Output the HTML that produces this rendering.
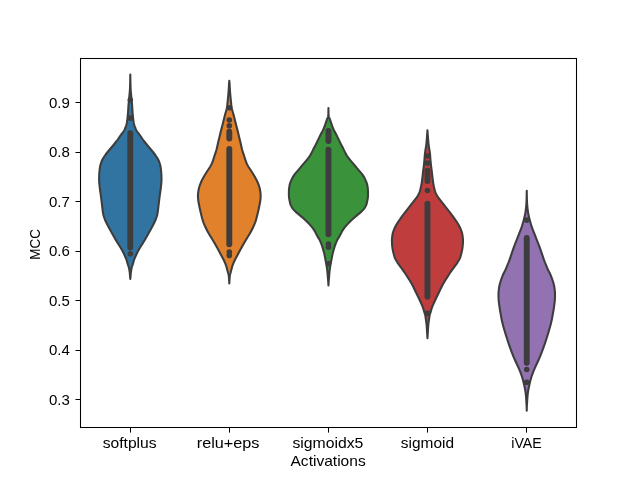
<!DOCTYPE html>
<html><head><meta charset="utf-8"><style>
html,body{margin:0;padding:0;background:#fff;}
svg{display:block;}
text{font-family:"Liberation Sans",sans-serif;fill:#000;}
</style></head><body>
<svg width="640" height="480" viewBox="0 0 640 480">
<rect width="640" height="480" fill="#fff"/>
<path d="M130.30,74.50 L130.29,75.00 L130.29,75.50 L130.28,76.00 L130.27,76.50 L130.27,77.00 L130.26,77.50 L130.25,78.00 L130.24,78.50 L130.23,79.00 L130.22,79.50 L130.21,80.00 L130.21,80.50 L130.20,81.00 L130.19,81.50 L130.17,82.00 L130.16,82.50 L130.15,83.00 L130.14,83.50 L130.13,84.00 L130.11,84.50 L130.10,85.00 L130.09,85.50 L130.07,86.00 L130.05,86.50 L130.04,87.00 L130.02,87.50 L130.00,88.00 L129.97,88.50 L129.95,89.00 L129.93,89.50 L129.90,90.00 L129.87,90.50 L129.83,91.00 L129.79,91.50 L129.74,92.00 L129.70,92.50 L129.65,93.00 L129.60,93.50 L129.55,94.00 L129.50,94.50 L129.45,95.00 L129.41,95.50 L129.36,96.00 L129.32,96.50 L129.27,97.00 L129.23,97.50 L129.18,98.00 L129.14,98.50 L129.09,99.00 L129.05,99.50 L129.00,100.00 L128.95,100.50 L128.90,101.00 L128.85,101.50 L128.79,102.00 L128.74,102.50 L128.68,103.00 L128.63,103.50 L128.58,104.00 L128.54,104.50 L128.50,105.00 L128.46,105.50 L128.43,106.00 L128.40,106.50 L128.37,107.00 L128.35,107.50 L128.32,108.00 L128.29,108.50 L128.26,109.00 L128.23,109.50 L128.20,110.00 L128.17,110.50 L128.13,111.00 L128.09,111.50 L128.06,112.00 L128.02,112.50 L127.98,113.00 L127.93,113.50 L127.89,114.00 L127.85,114.50 L127.80,115.00 L127.75,115.50 L127.70,116.00 L127.66,116.50 L127.61,117.00 L127.56,117.50 L127.50,118.00 L127.45,118.50 L127.39,119.00 L127.33,119.50 L127.27,120.00 L127.20,120.50 L127.13,121.00 L127.06,121.50 L126.98,122.00 L126.90,122.50 L126.80,123.00 L126.69,123.50 L126.57,124.00 L126.43,124.50 L126.29,125.00 L126.15,125.50 L125.99,126.00 L125.82,126.50 L125.65,127.00 L125.47,127.50 L125.27,128.00 L125.06,128.50 L124.84,129.00 L124.60,129.50 L124.34,130.00 L124.06,130.50 L123.75,131.00 L123.41,131.50 L123.06,132.00 L122.69,132.50 L122.32,133.00 L121.95,133.50 L121.57,134.00 L121.20,134.50 L120.84,135.00 L120.48,135.50 L120.13,136.00 L119.79,136.50 L119.45,137.00 L119.11,137.50 L118.77,138.00 L118.43,138.50 L118.09,139.00 L117.73,139.50 L117.38,140.00 L117.01,140.50 L116.64,141.00 L116.26,141.50 L115.88,142.00 L115.49,142.50 L115.10,143.00 L114.70,143.50 L114.30,144.00 L113.90,144.50 L113.49,145.00 L113.08,145.50 L112.66,146.00 L112.25,146.50 L111.83,147.00 L111.40,147.50 L110.98,148.00 L110.56,148.50 L110.14,149.00 L109.72,149.50 L109.30,150.00 L108.89,150.50 L108.47,151.00 L108.06,151.50 L107.65,152.00 L107.24,152.50 L106.84,153.00 L106.45,153.50 L106.07,154.00 L105.69,154.50 L105.33,155.00 L104.97,155.50 L104.62,156.00 L104.29,156.50 L103.96,157.00 L103.64,157.50 L103.33,158.00 L103.04,158.50 L102.76,159.00 L102.49,159.50 L102.24,160.00 L102.01,160.50 L101.79,161.00 L101.58,161.50 L101.38,162.00 L101.19,162.50 L101.01,163.00 L100.85,163.50 L100.70,164.00 L100.56,164.50 L100.44,165.00 L100.32,165.50 L100.22,166.00 L100.12,166.50 L100.03,167.00 L99.95,167.50 L99.87,168.00 L99.80,168.50 L99.73,169.00 L99.67,169.50 L99.61,170.00 L99.55,170.50 L99.50,171.00 L99.45,171.50 L99.41,172.00 L99.36,172.50 L99.33,173.00 L99.29,173.50 L99.26,174.00 L99.23,174.50 L99.21,175.00 L99.19,175.50 L99.17,176.00 L99.16,176.50 L99.15,177.00 L99.14,177.50 L99.13,178.00 L99.12,178.50 L99.12,179.00 L99.12,179.50 L99.12,180.00 L99.13,180.50 L99.15,181.00 L99.17,181.50 L99.20,182.00 L99.23,182.50 L99.27,183.00 L99.31,183.50 L99.36,184.00 L99.41,184.50 L99.45,185.00 L99.50,185.50 L99.56,186.00 L99.61,186.50 L99.67,187.00 L99.73,187.50 L99.79,188.00 L99.85,188.50 L99.92,189.00 L99.99,189.50 L100.06,190.00 L100.13,190.50 L100.20,191.00 L100.27,191.50 L100.35,192.00 L100.42,192.50 L100.50,193.00 L100.58,193.50 L100.65,194.00 L100.72,194.50 L100.79,195.00 L100.86,195.50 L100.92,196.00 L100.99,196.50 L101.05,197.00 L101.11,197.50 L101.17,198.00 L101.22,198.50 L101.28,199.00 L101.34,199.50 L101.40,200.00 L101.46,200.50 L101.52,201.00 L101.58,201.50 L101.64,202.00 L101.70,202.50 L101.76,203.00 L101.82,203.50 L101.88,204.00 L101.94,204.50 L102.00,205.00 L102.06,205.50 L102.12,206.00 L102.17,206.50 L102.23,207.00 L102.29,207.50 L102.35,208.00 L102.41,208.50 L102.48,209.00 L102.54,209.50 L102.60,210.00 L102.67,210.50 L102.74,211.00 L102.81,211.50 L102.89,212.00 L102.96,212.50 L103.04,213.00 L103.13,213.50 L103.22,214.00 L103.33,214.50 L103.44,215.00 L103.56,215.50 L103.69,216.00 L103.84,216.50 L104.00,217.00 L104.17,217.50 L104.34,218.00 L104.53,218.50 L104.72,219.00 L104.92,219.50 L105.12,220.00 L105.33,220.50 L105.55,221.00 L105.78,221.50 L106.01,222.00 L106.25,222.50 L106.49,223.00 L106.74,223.50 L106.99,224.00 L107.25,224.50 L107.51,225.00 L107.77,225.50 L108.03,226.00 L108.29,226.50 L108.56,227.00 L108.83,227.50 L109.10,228.00 L109.38,228.50 L109.65,229.00 L109.93,229.50 L110.20,230.00 L110.48,230.50 L110.76,231.00 L111.04,231.50 L111.32,232.00 L111.60,232.50 L111.88,233.00 L112.16,233.50 L112.44,234.00 L112.72,234.50 L113.00,235.00 L113.28,235.50 L113.55,236.00 L113.83,236.50 L114.11,237.00 L114.39,237.50 L114.67,238.00 L114.95,238.50 L115.23,239.00 L115.52,239.50 L115.82,240.00 L116.11,240.50 L116.41,241.00 L116.72,241.50 L117.03,242.00 L117.34,242.50 L117.65,243.00 L117.96,243.50 L118.27,244.00 L118.59,244.50 L118.90,245.00 L119.22,245.50 L119.53,246.00 L119.85,246.50 L120.17,247.00 L120.48,247.50 L120.79,248.00 L121.10,248.50 L121.40,249.00 L121.69,249.50 L121.97,250.00 L122.25,250.50 L122.52,251.00 L122.79,251.50 L123.05,252.00 L123.30,252.50 L123.55,253.00 L123.79,253.50 L124.03,254.00 L124.26,254.50 L124.49,255.00 L124.72,255.50 L124.94,256.00 L125.16,256.50 L125.38,257.00 L125.59,257.50 L125.80,258.00 L126.00,258.50 L126.19,259.00 L126.37,259.50 L126.54,260.00 L126.71,260.50 L126.86,261.00 L127.00,261.50 L127.14,262.00 L127.27,262.50 L127.40,263.00 L127.54,263.50 L127.68,264.00 L127.83,264.50 L128.00,265.00 L128.18,265.50 L128.37,266.00 L128.55,266.50 L128.72,267.00 L128.88,267.50 L129.00,268.00 L129.10,268.50 L129.20,269.00 L129.29,269.50 L129.38,270.00 L129.45,270.50 L129.53,271.00 L129.59,271.50 L129.66,272.00 L129.72,272.50 L129.77,273.00 L129.82,273.50 L129.87,274.00 L129.91,274.50 L129.95,275.00 L129.99,275.50 L130.02,276.00 L130.06,276.50 L130.11,277.00 L130.15,277.50 L130.20,278.00 L130.25,278.50 L130.30,279.00 L130.30,279.00 L130.35,278.50 L130.40,278.00 L130.45,277.50 L130.49,277.00 L130.54,276.50 L130.58,276.00 L130.61,275.50 L130.65,275.00 L130.69,274.50 L130.73,274.00 L130.78,273.50 L130.83,273.00 L130.88,272.50 L130.94,272.00 L131.01,271.50 L131.07,271.00 L131.15,270.50 L131.22,270.00 L131.31,269.50 L131.40,269.00 L131.50,268.50 L131.60,268.00 L131.72,267.50 L131.88,267.00 L132.05,266.50 L132.23,266.00 L132.42,265.50 L132.60,265.00 L132.77,264.50 L132.92,264.00 L133.06,263.50 L133.20,263.00 L133.33,262.50 L133.46,262.00 L133.60,261.50 L133.74,261.00 L133.89,260.50 L134.06,260.00 L134.23,259.50 L134.41,259.00 L134.60,258.50 L134.80,258.00 L135.01,257.50 L135.22,257.00 L135.44,256.50 L135.66,256.00 L135.88,255.50 L136.11,255.00 L136.34,254.50 L136.57,254.00 L136.81,253.50 L137.05,253.00 L137.30,252.50 L137.55,252.00 L137.81,251.50 L138.08,251.00 L138.35,250.50 L138.63,250.00 L138.91,249.50 L139.20,249.00 L139.50,248.50 L139.81,248.00 L140.12,247.50 L140.43,247.00 L140.75,246.50 L141.07,246.00 L141.38,245.50 L141.70,245.00 L142.01,244.50 L142.33,244.00 L142.64,243.50 L142.95,243.00 L143.26,242.50 L143.57,242.00 L143.88,241.50 L144.19,241.00 L144.49,240.50 L144.78,240.00 L145.08,239.50 L145.37,239.00 L145.65,238.50 L145.93,238.00 L146.21,237.50 L146.49,237.00 L146.77,236.50 L147.05,236.00 L147.32,235.50 L147.60,235.00 L147.88,234.50 L148.16,234.00 L148.44,233.50 L148.72,233.00 L149.00,232.50 L149.28,232.00 L149.56,231.50 L149.84,231.00 L150.12,230.50 L150.40,230.00 L150.67,229.50 L150.95,229.00 L151.22,228.50 L151.50,228.00 L151.77,227.50 L152.04,227.00 L152.31,226.50 L152.57,226.00 L152.83,225.50 L153.09,225.00 L153.35,224.50 L153.61,224.00 L153.86,223.50 L154.11,223.00 L154.35,222.50 L154.59,222.00 L154.82,221.50 L155.05,221.00 L155.27,220.50 L155.48,220.00 L155.68,219.50 L155.88,219.00 L156.07,218.50 L156.26,218.00 L156.43,217.50 L156.60,217.00 L156.76,216.50 L156.91,216.00 L157.04,215.50 L157.16,215.00 L157.27,214.50 L157.38,214.00 L157.47,213.50 L157.56,213.00 L157.64,212.50 L157.71,212.00 L157.79,211.50 L157.86,211.00 L157.93,210.50 L158.00,210.00 L158.06,209.50 L158.12,209.00 L158.19,208.50 L158.25,208.00 L158.31,207.50 L158.37,207.00 L158.43,206.50 L158.48,206.00 L158.54,205.50 L158.60,205.00 L158.66,204.50 L158.72,204.00 L158.78,203.50 L158.84,203.00 L158.90,202.50 L158.96,202.00 L159.02,201.50 L159.08,201.00 L159.14,200.50 L159.20,200.00 L159.26,199.50 L159.32,199.00 L159.38,198.50 L159.43,198.00 L159.49,197.50 L159.55,197.00 L159.61,196.50 L159.68,196.00 L159.74,195.50 L159.81,195.00 L159.88,194.50 L159.95,194.00 L160.02,193.50 L160.10,193.00 L160.18,192.50 L160.25,192.00 L160.33,191.50 L160.40,191.00 L160.47,190.50 L160.54,190.00 L160.61,189.50 L160.68,189.00 L160.75,188.50 L160.81,188.00 L160.87,187.50 L160.93,187.00 L160.99,186.50 L161.04,186.00 L161.10,185.50 L161.15,185.00 L161.19,184.50 L161.24,184.00 L161.29,183.50 L161.33,183.00 L161.37,182.50 L161.40,182.00 L161.43,181.50 L161.45,181.00 L161.47,180.50 L161.48,180.00 L161.48,179.50 L161.48,179.00 L161.48,178.50 L161.47,178.00 L161.46,177.50 L161.45,177.00 L161.44,176.50 L161.43,176.00 L161.41,175.50 L161.39,175.00 L161.37,174.50 L161.34,174.00 L161.31,173.50 L161.27,173.00 L161.24,172.50 L161.19,172.00 L161.15,171.50 L161.10,171.00 L161.05,170.50 L160.99,170.00 L160.93,169.50 L160.87,169.00 L160.80,168.50 L160.73,168.00 L160.65,167.50 L160.57,167.00 L160.48,166.50 L160.38,166.00 L160.28,165.50 L160.16,165.00 L160.04,164.50 L159.90,164.00 L159.75,163.50 L159.59,163.00 L159.41,162.50 L159.22,162.00 L159.02,161.50 L158.81,161.00 L158.59,160.50 L158.36,160.00 L158.11,159.50 L157.84,159.00 L157.56,158.50 L157.27,158.00 L156.96,157.50 L156.64,157.00 L156.31,156.50 L155.98,156.00 L155.63,155.50 L155.27,155.00 L154.91,154.50 L154.53,154.00 L154.15,153.50 L153.76,153.00 L153.36,152.50 L152.95,152.00 L152.54,151.50 L152.13,151.00 L151.71,150.50 L151.30,150.00 L150.88,149.50 L150.46,149.00 L150.04,148.50 L149.62,148.00 L149.20,147.50 L148.77,147.00 L148.35,146.50 L147.94,146.00 L147.52,145.50 L147.11,145.00 L146.70,144.50 L146.30,144.00 L145.90,143.50 L145.50,143.00 L145.11,142.50 L144.72,142.00 L144.34,141.50 L143.96,141.00 L143.59,140.50 L143.22,140.00 L142.87,139.50 L142.51,139.00 L142.17,138.50 L141.83,138.00 L141.49,137.50 L141.15,137.00 L140.81,136.50 L140.47,136.00 L140.12,135.50 L139.76,135.00 L139.40,134.50 L139.03,134.00 L138.65,133.50 L138.28,133.00 L137.91,132.50 L137.54,132.00 L137.19,131.50 L136.85,131.00 L136.54,130.50 L136.26,130.00 L136.00,129.50 L135.76,129.00 L135.54,128.50 L135.33,128.00 L135.13,127.50 L134.95,127.00 L134.78,126.50 L134.61,126.00 L134.45,125.50 L134.31,125.00 L134.17,124.50 L134.03,124.00 L133.91,123.50 L133.80,123.00 L133.70,122.50 L133.62,122.00 L133.54,121.50 L133.47,121.00 L133.40,120.50 L133.33,120.00 L133.27,119.50 L133.21,119.00 L133.15,118.50 L133.10,118.00 L133.04,117.50 L132.99,117.00 L132.94,116.50 L132.90,116.00 L132.85,115.50 L132.80,115.00 L132.75,114.50 L132.71,114.00 L132.67,113.50 L132.62,113.00 L132.58,112.50 L132.54,112.00 L132.51,111.50 L132.47,111.00 L132.43,110.50 L132.40,110.00 L132.37,109.50 L132.34,109.00 L132.31,108.50 L132.28,108.00 L132.25,107.50 L132.23,107.00 L132.20,106.50 L132.17,106.00 L132.14,105.50 L132.10,105.00 L132.06,104.50 L132.02,104.00 L131.97,103.50 L131.92,103.00 L131.86,102.50 L131.81,102.00 L131.75,101.50 L131.70,101.00 L131.65,100.50 L131.60,100.00 L131.55,99.50 L131.51,99.00 L131.46,98.50 L131.42,98.00 L131.37,97.50 L131.33,97.00 L131.28,96.50 L131.24,96.00 L131.19,95.50 L131.15,95.00 L131.10,94.50 L131.05,94.00 L131.00,93.50 L130.95,93.00 L130.90,92.50 L130.86,92.00 L130.81,91.50 L130.77,91.00 L130.73,90.50 L130.70,90.00 L130.67,89.50 L130.65,89.00 L130.63,88.50 L130.60,88.00 L130.58,87.50 L130.56,87.00 L130.55,86.50 L130.53,86.00 L130.51,85.50 L130.50,85.00 L130.49,84.50 L130.47,84.00 L130.46,83.50 L130.45,83.00 L130.44,82.50 L130.43,82.00 L130.41,81.50 L130.40,81.00 L130.39,80.50 L130.39,80.00 L130.38,79.50 L130.37,79.00 L130.36,78.50 L130.35,78.00 L130.34,77.50 L130.33,77.00 L130.33,76.50 L130.32,76.00 L130.31,75.50 L130.31,75.00 L130.30,74.50 Z" fill="#3274a1" stroke="#3d3d3d" stroke-width="2.08" stroke-linejoin="round"/>
<circle cx="130.3" cy="100" r="2.8" fill="#3d3d3d"/>
<circle cx="130.3" cy="118.1" r="2.8" fill="#3d3d3d"/>
<circle cx="130.3" cy="253.75" r="2.8" fill="#3d3d3d"/>
<line x1="130.3" y1="133.1" x2="130.3" y2="247.5" stroke="#3d3d3d" stroke-width="5.9" stroke-linecap="round"/>
<path d="M229.30,80.80 L229.25,81.30 L229.20,81.80 L229.16,82.30 L229.12,82.80 L229.08,83.30 L229.04,83.80 L229.01,84.30 L228.98,84.80 L228.96,85.30 L228.93,85.80 L228.90,86.30 L228.87,86.80 L228.84,87.30 L228.81,87.80 L228.78,88.30 L228.75,88.80 L228.72,89.30 L228.68,89.80 L228.65,90.30 L228.61,90.80 L228.58,91.30 L228.54,91.80 L228.50,92.30 L228.47,92.80 L228.43,93.30 L228.38,93.80 L228.34,94.30 L228.30,94.80 L228.25,95.30 L228.21,95.80 L228.16,96.30 L228.11,96.80 L228.07,97.30 L228.02,97.80 L227.97,98.30 L227.92,98.80 L227.88,99.30 L227.83,99.80 L227.78,100.30 L227.73,100.80 L227.68,101.30 L227.63,101.80 L227.57,102.30 L227.52,102.80 L227.47,103.30 L227.42,103.80 L227.37,104.30 L227.32,104.80 L227.27,105.30 L227.21,105.80 L227.15,106.30 L227.09,106.80 L227.02,107.30 L226.93,107.80 L226.83,108.30 L226.71,108.80 L226.58,109.30 L226.45,109.80 L226.32,110.30 L226.19,110.80 L226.05,111.30 L225.91,111.80 L225.77,112.30 L225.62,112.80 L225.48,113.30 L225.34,113.80 L225.19,114.30 L225.06,114.80 L224.92,115.30 L224.79,115.80 L224.66,116.30 L224.53,116.80 L224.40,117.30 L224.27,117.80 L224.14,118.30 L224.02,118.80 L223.89,119.30 L223.77,119.80 L223.64,120.30 L223.52,120.80 L223.40,121.30 L223.28,121.80 L223.16,122.30 L223.04,122.80 L222.92,123.30 L222.79,123.80 L222.67,124.30 L222.54,124.80 L222.41,125.30 L222.28,125.80 L222.15,126.30 L222.01,126.80 L221.88,127.30 L221.74,127.80 L221.61,128.30 L221.47,128.80 L221.34,129.30 L221.21,129.80 L221.08,130.30 L220.96,130.80 L220.83,131.30 L220.71,131.80 L220.59,132.30 L220.47,132.80 L220.35,133.30 L220.23,133.80 L220.12,134.30 L220.00,134.80 L219.88,135.30 L219.76,135.80 L219.64,136.30 L219.52,136.80 L219.40,137.30 L219.28,137.80 L219.16,138.30 L219.04,138.80 L218.92,139.30 L218.80,139.80 L218.68,140.30 L218.56,140.80 L218.44,141.30 L218.33,141.80 L218.21,142.30 L218.09,142.80 L217.98,143.30 L217.86,143.80 L217.75,144.30 L217.63,144.80 L217.52,145.30 L217.41,145.80 L217.30,146.30 L217.19,146.80 L217.08,147.30 L216.96,147.80 L216.84,148.30 L216.72,148.80 L216.59,149.30 L216.46,149.80 L216.31,150.30 L216.16,150.80 L216.01,151.30 L215.85,151.80 L215.68,152.30 L215.51,152.80 L215.34,153.30 L215.17,153.80 L215.00,154.30 L214.83,154.80 L214.67,155.30 L214.51,155.80 L214.35,156.30 L214.19,156.80 L214.04,157.30 L213.88,157.80 L213.72,158.30 L213.56,158.80 L213.40,159.30 L213.23,159.80 L213.06,160.30 L212.88,160.80 L212.70,161.30 L212.52,161.80 L212.33,162.30 L212.13,162.80 L211.93,163.30 L211.71,163.80 L211.49,164.30 L211.24,164.80 L210.99,165.30 L210.72,165.80 L210.43,166.30 L210.13,166.80 L209.81,167.30 L209.49,167.80 L209.16,168.30 L208.83,168.80 L208.50,169.30 L208.17,169.80 L207.85,170.30 L207.52,170.80 L207.20,171.30 L206.88,171.80 L206.56,172.30 L206.24,172.80 L205.92,173.30 L205.61,173.80 L205.30,174.30 L205.00,174.80 L204.70,175.30 L204.41,175.80 L204.12,176.30 L203.83,176.80 L203.55,177.30 L203.27,177.80 L203.00,178.30 L202.73,178.80 L202.47,179.30 L202.21,179.80 L201.96,180.30 L201.72,180.80 L201.47,181.30 L201.24,181.80 L201.01,182.30 L200.78,182.80 L200.57,183.30 L200.36,183.80 L200.17,184.30 L199.99,184.80 L199.81,185.30 L199.65,185.80 L199.49,186.30 L199.34,186.80 L199.20,187.30 L199.07,187.80 L198.95,188.30 L198.83,188.80 L198.72,189.30 L198.62,189.80 L198.53,190.30 L198.43,190.80 L198.35,191.30 L198.27,191.80 L198.19,192.30 L198.13,192.80 L198.07,193.30 L198.02,193.80 L197.99,194.30 L197.97,194.80 L197.96,195.30 L197.96,195.80 L197.97,196.30 L197.99,196.80 L198.01,197.30 L198.04,197.80 L198.07,198.30 L198.11,198.80 L198.16,199.30 L198.20,199.80 L198.26,200.30 L198.32,200.80 L198.40,201.30 L198.48,201.80 L198.56,202.30 L198.66,202.80 L198.75,203.30 L198.85,203.80 L198.95,204.30 L199.05,204.80 L199.15,205.30 L199.25,205.80 L199.35,206.30 L199.45,206.80 L199.55,207.30 L199.65,207.80 L199.75,208.30 L199.85,208.80 L199.96,209.30 L200.06,209.80 L200.17,210.30 L200.29,210.80 L200.40,211.30 L200.52,211.80 L200.64,212.30 L200.76,212.80 L200.88,213.30 L201.00,213.80 L201.13,214.30 L201.25,214.80 L201.37,215.30 L201.50,215.80 L201.62,216.30 L201.74,216.80 L201.87,217.30 L202.00,217.80 L202.13,218.30 L202.27,218.80 L202.41,219.30 L202.56,219.80 L202.72,220.30 L202.89,220.80 L203.06,221.30 L203.24,221.80 L203.42,222.30 L203.62,222.80 L203.81,223.30 L204.01,223.80 L204.22,224.30 L204.43,224.80 L204.64,225.30 L204.85,225.80 L205.07,226.30 L205.29,226.80 L205.52,227.30 L205.75,227.80 L205.98,228.30 L206.22,228.80 L206.47,229.30 L206.72,229.80 L206.97,230.30 L207.23,230.80 L207.50,231.30 L207.77,231.80 L208.05,232.30 L208.33,232.80 L208.62,233.30 L208.90,233.80 L209.20,234.30 L209.49,234.80 L209.79,235.30 L210.09,235.80 L210.40,236.30 L210.71,236.80 L211.02,237.30 L211.33,237.80 L211.64,238.30 L211.95,238.80 L212.26,239.30 L212.57,239.80 L212.87,240.30 L213.17,240.80 L213.46,241.30 L213.76,241.80 L214.05,242.30 L214.34,242.80 L214.63,243.30 L214.91,243.80 L215.20,244.30 L215.48,244.80 L215.77,245.30 L216.05,245.80 L216.34,246.30 L216.62,246.80 L216.90,247.30 L217.18,247.80 L217.46,248.30 L217.74,248.80 L218.01,249.30 L218.28,249.80 L218.55,250.30 L218.82,250.80 L219.08,251.30 L219.34,251.80 L219.60,252.30 L219.86,252.80 L220.12,253.30 L220.38,253.80 L220.64,254.30 L220.91,254.80 L221.17,255.30 L221.44,255.80 L221.71,256.30 L221.99,256.80 L222.26,257.30 L222.53,257.80 L222.81,258.30 L223.07,258.80 L223.33,259.30 L223.59,259.80 L223.84,260.30 L224.08,260.80 L224.32,261.30 L224.56,261.80 L224.79,262.30 L225.02,262.80 L225.23,263.30 L225.44,263.80 L225.64,264.30 L225.83,264.80 L226.00,265.30 L226.16,265.80 L226.31,266.30 L226.45,266.80 L226.59,267.30 L226.72,267.80 L226.85,268.30 L226.98,268.80 L227.11,269.30 L227.25,269.80 L227.38,270.30 L227.51,270.80 L227.64,271.30 L227.77,271.80 L227.91,272.30 L228.04,272.80 L228.19,273.30 L228.37,273.80 L228.54,274.30 L228.67,274.80 L228.74,275.30 L228.80,275.80 L228.85,276.30 L228.89,276.80 L228.93,277.30 L228.96,277.80 L229.00,278.30 L229.03,278.80 L229.06,279.30 L229.09,279.80 L229.12,280.30 L229.15,280.80 L229.18,281.30 L229.21,281.80 L229.24,282.30 L229.27,282.80 L229.29,283.30 L229.30,283.50 L229.30,283.50 L229.31,283.30 L229.33,282.80 L229.36,282.30 L229.39,281.80 L229.42,281.30 L229.45,280.80 L229.48,280.30 L229.51,279.80 L229.54,279.30 L229.57,278.80 L229.60,278.30 L229.64,277.80 L229.67,277.30 L229.71,276.80 L229.75,276.30 L229.80,275.80 L229.86,275.30 L229.93,274.80 L230.06,274.30 L230.23,273.80 L230.41,273.30 L230.56,272.80 L230.69,272.30 L230.83,271.80 L230.96,271.30 L231.09,270.80 L231.22,270.30 L231.35,269.80 L231.49,269.30 L231.62,268.80 L231.75,268.30 L231.88,267.80 L232.01,267.30 L232.15,266.80 L232.29,266.30 L232.44,265.80 L232.60,265.30 L232.77,264.80 L232.96,264.30 L233.16,263.80 L233.37,263.30 L233.58,262.80 L233.81,262.30 L234.04,261.80 L234.28,261.30 L234.52,260.80 L234.76,260.30 L235.01,259.80 L235.27,259.30 L235.53,258.80 L235.79,258.30 L236.07,257.80 L236.34,257.30 L236.61,256.80 L236.89,256.30 L237.16,255.80 L237.43,255.30 L237.69,254.80 L237.96,254.30 L238.22,253.80 L238.48,253.30 L238.74,252.80 L239.00,252.30 L239.26,251.80 L239.52,251.30 L239.78,250.80 L240.05,250.30 L240.32,249.80 L240.59,249.30 L240.86,248.80 L241.14,248.30 L241.42,247.80 L241.70,247.30 L241.98,246.80 L242.26,246.30 L242.55,245.80 L242.83,245.30 L243.12,244.80 L243.40,244.30 L243.69,243.80 L243.97,243.30 L244.26,242.80 L244.55,242.30 L244.84,241.80 L245.14,241.30 L245.43,240.80 L245.73,240.30 L246.03,239.80 L246.34,239.30 L246.65,238.80 L246.96,238.30 L247.27,237.80 L247.58,237.30 L247.89,236.80 L248.20,236.30 L248.51,235.80 L248.81,235.30 L249.11,234.80 L249.40,234.30 L249.70,233.80 L249.98,233.30 L250.27,232.80 L250.55,232.30 L250.83,231.80 L251.10,231.30 L251.37,230.80 L251.63,230.30 L251.88,229.80 L252.13,229.30 L252.38,228.80 L252.62,228.30 L252.85,227.80 L253.08,227.30 L253.31,226.80 L253.53,226.30 L253.75,225.80 L253.96,225.30 L254.17,224.80 L254.38,224.30 L254.59,223.80 L254.79,223.30 L254.98,222.80 L255.18,222.30 L255.36,221.80 L255.54,221.30 L255.71,220.80 L255.88,220.30 L256.04,219.80 L256.19,219.30 L256.33,218.80 L256.47,218.30 L256.60,217.80 L256.73,217.30 L256.86,216.80 L256.98,216.30 L257.10,215.80 L257.23,215.30 L257.35,214.80 L257.47,214.30 L257.60,213.80 L257.72,213.30 L257.84,212.80 L257.96,212.30 L258.08,211.80 L258.20,211.30 L258.31,210.80 L258.43,210.30 L258.54,209.80 L258.64,209.30 L258.75,208.80 L258.85,208.30 L258.95,207.80 L259.05,207.30 L259.15,206.80 L259.25,206.30 L259.35,205.80 L259.45,205.30 L259.55,204.80 L259.65,204.30 L259.75,203.80 L259.85,203.30 L259.94,202.80 L260.04,202.30 L260.12,201.80 L260.20,201.30 L260.28,200.80 L260.34,200.30 L260.40,199.80 L260.44,199.30 L260.49,198.80 L260.53,198.30 L260.56,197.80 L260.59,197.30 L260.61,196.80 L260.63,196.30 L260.64,195.80 L260.64,195.30 L260.63,194.80 L260.61,194.30 L260.58,193.80 L260.53,193.30 L260.47,192.80 L260.41,192.30 L260.33,191.80 L260.25,191.30 L260.17,190.80 L260.07,190.30 L259.98,189.80 L259.88,189.30 L259.77,188.80 L259.65,188.30 L259.53,187.80 L259.40,187.30 L259.26,186.80 L259.11,186.30 L258.95,185.80 L258.79,185.30 L258.61,184.80 L258.43,184.30 L258.24,183.80 L258.03,183.30 L257.82,182.80 L257.59,182.30 L257.36,181.80 L257.13,181.30 L256.88,180.80 L256.64,180.30 L256.39,179.80 L256.13,179.30 L255.87,178.80 L255.60,178.30 L255.33,177.80 L255.05,177.30 L254.77,176.80 L254.48,176.30 L254.19,175.80 L253.90,175.30 L253.60,174.80 L253.30,174.30 L252.99,173.80 L252.68,173.30 L252.36,172.80 L252.04,172.30 L251.72,171.80 L251.40,171.30 L251.08,170.80 L250.75,170.30 L250.43,169.80 L250.10,169.30 L249.77,168.80 L249.44,168.30 L249.11,167.80 L248.79,167.30 L248.47,166.80 L248.17,166.30 L247.88,165.80 L247.61,165.30 L247.36,164.80 L247.11,164.30 L246.89,163.80 L246.67,163.30 L246.47,162.80 L246.27,162.30 L246.08,161.80 L245.90,161.30 L245.72,160.80 L245.54,160.30 L245.37,159.80 L245.20,159.30 L245.04,158.80 L244.88,158.30 L244.72,157.80 L244.56,157.30 L244.41,156.80 L244.25,156.30 L244.09,155.80 L243.93,155.30 L243.77,154.80 L243.60,154.30 L243.43,153.80 L243.26,153.30 L243.09,152.80 L242.92,152.30 L242.75,151.80 L242.59,151.30 L242.44,150.80 L242.29,150.30 L242.14,149.80 L242.01,149.30 L241.88,148.80 L241.76,148.30 L241.64,147.80 L241.52,147.30 L241.41,146.80 L241.30,146.30 L241.19,145.80 L241.08,145.30 L240.97,144.80 L240.85,144.30 L240.74,143.80 L240.62,143.30 L240.51,142.80 L240.39,142.30 L240.27,141.80 L240.16,141.30 L240.04,140.80 L239.92,140.30 L239.80,139.80 L239.68,139.30 L239.56,138.80 L239.44,138.30 L239.32,137.80 L239.20,137.30 L239.08,136.80 L238.96,136.30 L238.84,135.80 L238.72,135.30 L238.60,134.80 L238.48,134.30 L238.37,133.80 L238.25,133.30 L238.13,132.80 L238.01,132.30 L237.89,131.80 L237.77,131.30 L237.64,130.80 L237.52,130.30 L237.39,129.80 L237.26,129.30 L237.13,128.80 L236.99,128.30 L236.86,127.80 L236.72,127.30 L236.59,126.80 L236.45,126.30 L236.32,125.80 L236.19,125.30 L236.06,124.80 L235.93,124.30 L235.81,123.80 L235.68,123.30 L235.56,122.80 L235.44,122.30 L235.32,121.80 L235.20,121.30 L235.08,120.80 L234.96,120.30 L234.83,119.80 L234.71,119.30 L234.58,118.80 L234.46,118.30 L234.33,117.80 L234.20,117.30 L234.07,116.80 L233.94,116.30 L233.81,115.80 L233.68,115.30 L233.54,114.80 L233.41,114.30 L233.26,113.80 L233.12,113.30 L232.98,112.80 L232.83,112.30 L232.69,111.80 L232.55,111.30 L232.41,110.80 L232.28,110.30 L232.15,109.80 L232.02,109.30 L231.89,108.80 L231.77,108.30 L231.67,107.80 L231.58,107.30 L231.51,106.80 L231.45,106.30 L231.39,105.80 L231.33,105.30 L231.28,104.80 L231.23,104.30 L231.18,103.80 L231.13,103.30 L231.08,102.80 L231.03,102.30 L230.97,101.80 L230.92,101.30 L230.87,100.80 L230.82,100.30 L230.77,99.80 L230.72,99.30 L230.68,98.80 L230.63,98.30 L230.58,97.80 L230.53,97.30 L230.49,96.80 L230.44,96.30 L230.39,95.80 L230.35,95.30 L230.30,94.80 L230.26,94.30 L230.22,93.80 L230.17,93.30 L230.13,92.80 L230.10,92.30 L230.06,91.80 L230.02,91.30 L229.99,90.80 L229.95,90.30 L229.92,89.80 L229.88,89.30 L229.85,88.80 L229.82,88.30 L229.79,87.80 L229.76,87.30 L229.73,86.80 L229.70,86.30 L229.67,85.80 L229.64,85.30 L229.62,84.80 L229.59,84.30 L229.56,83.80 L229.52,83.30 L229.48,82.80 L229.44,82.30 L229.40,81.80 L229.35,81.30 L229.30,80.80 Z" fill="#e1812c" stroke="#3d3d3d" stroke-width="2.08" stroke-linejoin="round"/>
<circle cx="229.3" cy="107.8" r="2.8" fill="#3d3d3d"/>
<circle cx="229.3" cy="120" r="2.8" fill="#3d3d3d"/>
<circle cx="229.3" cy="125.8" r="2.8" fill="#3d3d3d"/>
<circle cx="229.3" cy="252.1" r="2.8" fill="#3d3d3d"/>
<circle cx="229.3" cy="255.4" r="2.8" fill="#3d3d3d"/>
<line x1="229.3" y1="131.7" x2="229.3" y2="138.5" stroke="#3d3d3d" stroke-width="5.9" stroke-linecap="round"/>
<line x1="229.3" y1="149" x2="229.3" y2="244.2" stroke="#3d3d3d" stroke-width="5.9" stroke-linecap="round"/>
<path d="M328.45,108.10 L328.44,108.60 L328.44,109.10 L328.43,109.60 L328.43,110.10 L328.42,110.60 L328.41,111.10 L328.41,111.60 L328.40,112.10 L328.40,112.60 L328.39,113.10 L328.38,113.60 L328.37,114.10 L328.36,114.60 L328.35,115.10 L328.29,115.60 L328.19,116.10 L328.05,116.60 L327.88,117.10 L327.69,117.60 L327.49,118.10 L327.28,118.60 L327.07,119.10 L326.88,119.60 L326.70,120.10 L326.54,120.60 L326.38,121.10 L326.21,121.60 L326.05,122.10 L325.88,122.60 L325.71,123.10 L325.54,123.60 L325.37,124.10 L325.19,124.60 L325.01,125.10 L324.83,125.60 L324.64,126.10 L324.45,126.60 L324.26,127.10 L324.06,127.60 L323.86,128.10 L323.65,128.60 L323.44,129.10 L323.22,129.60 L322.99,130.10 L322.75,130.60 L322.50,131.10 L322.25,131.60 L321.99,132.10 L321.72,132.60 L321.46,133.10 L321.20,133.60 L320.93,134.10 L320.67,134.60 L320.41,135.10 L320.15,135.60 L319.90,136.10 L319.64,136.60 L319.39,137.10 L319.14,137.60 L318.89,138.10 L318.64,138.60 L318.40,139.10 L318.15,139.60 L317.91,140.10 L317.66,140.60 L317.42,141.10 L317.18,141.60 L316.95,142.10 L316.71,142.60 L316.47,143.10 L316.23,143.60 L315.98,144.10 L315.74,144.60 L315.49,145.10 L315.24,145.60 L314.98,146.10 L314.72,146.60 L314.46,147.10 L314.20,147.60 L313.94,148.10 L313.68,148.60 L313.42,149.10 L313.17,149.60 L312.92,150.10 L312.67,150.60 L312.42,151.10 L312.18,151.60 L311.94,152.10 L311.69,152.60 L311.44,153.10 L311.18,153.60 L310.91,154.10 L310.63,154.60 L310.33,155.10 L310.02,155.60 L309.69,156.10 L309.35,156.60 L308.99,157.10 L308.62,157.60 L308.24,158.10 L307.85,158.60 L307.46,159.10 L307.06,159.60 L306.65,160.10 L306.24,160.60 L305.82,161.10 L305.40,161.60 L304.97,162.10 L304.53,162.60 L304.10,163.10 L303.67,163.60 L303.23,164.10 L302.81,164.60 L302.38,165.10 L301.96,165.60 L301.55,166.10 L301.13,166.60 L300.72,167.10 L300.32,167.60 L299.91,168.10 L299.49,168.60 L299.08,169.10 L298.66,169.60 L298.24,170.10 L297.81,170.60 L297.38,171.10 L296.94,171.60 L296.50,172.10 L296.07,172.60 L295.64,173.10 L295.23,173.60 L294.84,174.10 L294.47,174.60 L294.11,175.10 L293.78,175.60 L293.46,176.10 L293.16,176.60 L292.87,177.10 L292.59,177.60 L292.32,178.10 L292.07,178.60 L291.82,179.10 L291.59,179.60 L291.36,180.10 L291.14,180.60 L290.92,181.10 L290.72,181.60 L290.52,182.10 L290.34,182.60 L290.17,183.10 L290.01,183.60 L289.87,184.10 L289.75,184.60 L289.63,185.10 L289.53,185.60 L289.43,186.10 L289.34,186.60 L289.26,187.10 L289.19,187.60 L289.13,188.10 L289.07,188.60 L289.03,189.10 L288.99,189.60 L288.97,190.10 L288.95,190.60 L288.93,191.10 L288.92,191.60 L288.91,192.10 L288.90,192.60 L288.89,193.10 L288.89,193.60 L288.88,194.10 L288.88,194.60 L288.89,195.10 L288.90,195.60 L288.92,196.10 L288.96,196.60 L289.00,197.10 L289.06,197.60 L289.13,198.10 L289.21,198.60 L289.29,199.10 L289.38,199.60 L289.47,200.10 L289.57,200.60 L289.66,201.10 L289.77,201.60 L289.88,202.10 L289.99,202.60 L290.12,203.10 L290.26,203.60 L290.41,204.10 L290.57,204.60 L290.76,205.10 L290.97,205.60 L291.20,206.10 L291.46,206.60 L291.75,207.10 L292.06,207.60 L292.39,208.10 L292.75,208.60 L293.13,209.10 L293.54,209.60 L293.98,210.10 L294.45,210.60 L294.96,211.10 L295.50,211.60 L296.07,212.10 L296.66,212.60 L297.26,213.10 L297.87,213.60 L298.48,214.10 L299.08,214.60 L299.67,215.10 L300.25,215.60 L300.82,216.10 L301.39,216.60 L301.94,217.10 L302.50,217.60 L303.04,218.10 L303.59,218.60 L304.13,219.10 L304.67,219.60 L305.20,220.10 L305.73,220.60 L306.25,221.10 L306.78,221.60 L307.29,222.10 L307.80,222.60 L308.31,223.10 L308.80,223.60 L309.28,224.10 L309.75,224.60 L310.21,225.10 L310.65,225.60 L311.09,226.10 L311.52,226.60 L311.94,227.10 L312.34,227.60 L312.73,228.10 L313.10,228.60 L313.46,229.10 L313.79,229.60 L314.11,230.10 L314.41,230.60 L314.69,231.10 L314.96,231.60 L315.22,232.10 L315.47,232.60 L315.72,233.10 L315.97,233.60 L316.22,234.10 L316.49,234.60 L316.76,235.10 L317.04,235.60 L317.33,236.10 L317.63,236.60 L317.94,237.10 L318.24,237.60 L318.54,238.10 L318.84,238.60 L319.12,239.10 L319.40,239.60 L319.66,240.10 L319.91,240.60 L320.15,241.10 L320.37,241.60 L320.59,242.10 L320.81,242.60 L321.01,243.10 L321.21,243.60 L321.40,244.10 L321.59,244.60 L321.77,245.10 L321.95,245.60 L322.12,246.10 L322.28,246.60 L322.44,247.10 L322.60,247.60 L322.75,248.10 L322.90,248.60 L323.04,249.10 L323.18,249.60 L323.32,250.10 L323.46,250.60 L323.60,251.10 L323.73,251.60 L323.86,252.10 L323.98,252.60 L324.11,253.10 L324.23,253.60 L324.35,254.10 L324.46,254.60 L324.57,255.10 L324.67,255.60 L324.78,256.10 L324.87,256.60 L324.97,257.10 L325.06,257.60 L325.15,258.10 L325.24,258.60 L325.33,259.10 L325.43,259.60 L325.52,260.10 L325.61,260.60 L325.70,261.10 L325.79,261.60 L325.88,262.10 L325.98,262.60 L326.07,263.10 L326.17,263.60 L326.27,264.10 L326.37,264.60 L326.47,265.10 L326.56,265.60 L326.65,266.10 L326.73,266.60 L326.81,267.10 L326.88,267.60 L326.95,268.10 L327.01,268.60 L327.08,269.10 L327.14,269.60 L327.19,270.10 L327.25,270.60 L327.31,271.10 L327.36,271.60 L327.41,272.10 L327.46,272.60 L327.51,273.10 L327.55,273.60 L327.60,274.10 L327.64,274.60 L327.68,275.10 L327.73,275.60 L327.77,276.10 L327.81,276.60 L327.85,277.10 L327.89,277.60 L327.93,278.10 L327.97,278.60 L328.01,279.10 L328.05,279.60 L328.10,280.10 L328.14,280.60 L328.18,281.10 L328.22,281.60 L328.26,282.10 L328.30,282.60 L328.34,283.10 L328.37,283.60 L328.40,284.10 L328.42,284.60 L328.44,285.10 L328.45,285.50 L328.45,285.50 L328.46,285.10 L328.48,284.60 L328.50,284.10 L328.53,283.60 L328.56,283.10 L328.60,282.60 L328.64,282.10 L328.68,281.60 L328.72,281.10 L328.76,280.60 L328.80,280.10 L328.85,279.60 L328.89,279.10 L328.93,278.60 L328.97,278.10 L329.01,277.60 L329.05,277.10 L329.09,276.60 L329.13,276.10 L329.17,275.60 L329.22,275.10 L329.26,274.60 L329.30,274.10 L329.35,273.60 L329.39,273.10 L329.44,272.60 L329.49,272.10 L329.54,271.60 L329.59,271.10 L329.65,270.60 L329.71,270.10 L329.76,269.60 L329.82,269.10 L329.89,268.60 L329.95,268.10 L330.02,267.60 L330.09,267.10 L330.17,266.60 L330.25,266.10 L330.34,265.60 L330.43,265.10 L330.53,264.60 L330.63,264.10 L330.73,263.60 L330.83,263.10 L330.92,262.60 L331.02,262.10 L331.11,261.60 L331.20,261.10 L331.29,260.60 L331.38,260.10 L331.47,259.60 L331.57,259.10 L331.66,258.60 L331.75,258.10 L331.84,257.60 L331.93,257.10 L332.03,256.60 L332.12,256.10 L332.23,255.60 L332.33,255.10 L332.44,254.60 L332.55,254.10 L332.67,253.60 L332.79,253.10 L332.92,252.60 L333.04,252.10 L333.17,251.60 L333.30,251.10 L333.44,250.60 L333.58,250.10 L333.72,249.60 L333.86,249.10 L334.00,248.60 L334.15,248.10 L334.30,247.60 L334.46,247.10 L334.62,246.60 L334.78,246.10 L334.95,245.60 L335.13,245.10 L335.31,244.60 L335.50,244.10 L335.69,243.60 L335.89,243.10 L336.09,242.60 L336.31,242.10 L336.53,241.60 L336.75,241.10 L336.99,240.60 L337.24,240.10 L337.50,239.60 L337.78,239.10 L338.06,238.60 L338.36,238.10 L338.66,237.60 L338.96,237.10 L339.27,236.60 L339.57,236.10 L339.86,235.60 L340.14,235.10 L340.41,234.60 L340.68,234.10 L340.93,233.60 L341.18,233.10 L341.43,232.60 L341.68,232.10 L341.94,231.60 L342.21,231.10 L342.49,230.60 L342.79,230.10 L343.11,229.60 L343.44,229.10 L343.80,228.60 L344.17,228.10 L344.56,227.60 L344.96,227.10 L345.38,226.60 L345.81,226.10 L346.25,225.60 L346.69,225.10 L347.15,224.60 L347.62,224.10 L348.10,223.60 L348.59,223.10 L349.10,222.60 L349.61,222.10 L350.12,221.60 L350.65,221.10 L351.17,220.60 L351.70,220.10 L352.23,219.60 L352.77,219.10 L353.31,218.60 L353.86,218.10 L354.40,217.60 L354.96,217.10 L355.51,216.60 L356.08,216.10 L356.65,215.60 L357.23,215.10 L357.82,214.60 L358.42,214.10 L359.03,213.60 L359.64,213.10 L360.24,212.60 L360.83,212.10 L361.40,211.60 L361.94,211.10 L362.45,210.60 L362.92,210.10 L363.36,209.60 L363.77,209.10 L364.15,208.60 L364.51,208.10 L364.84,207.60 L365.15,207.10 L365.44,206.60 L365.70,206.10 L365.93,205.60 L366.14,205.10 L366.33,204.60 L366.49,204.10 L366.64,203.60 L366.78,203.10 L366.91,202.60 L367.02,202.10 L367.13,201.60 L367.24,201.10 L367.33,200.60 L367.43,200.10 L367.52,199.60 L367.61,199.10 L367.69,198.60 L367.77,198.10 L367.84,197.60 L367.90,197.10 L367.94,196.60 L367.98,196.10 L368.00,195.60 L368.01,195.10 L368.02,194.60 L368.02,194.10 L368.01,193.60 L368.01,193.10 L368.00,192.60 L367.99,192.10 L367.98,191.60 L367.97,191.10 L367.95,190.60 L367.93,190.10 L367.91,189.60 L367.87,189.10 L367.83,188.60 L367.77,188.10 L367.71,187.60 L367.64,187.10 L367.56,186.60 L367.47,186.10 L367.37,185.60 L367.27,185.10 L367.15,184.60 L367.03,184.10 L366.89,183.60 L366.73,183.10 L366.56,182.60 L366.38,182.10 L366.18,181.60 L365.98,181.10 L365.76,180.60 L365.54,180.10 L365.31,179.60 L365.08,179.10 L364.83,178.60 L364.58,178.10 L364.31,177.60 L364.03,177.10 L363.74,176.60 L363.44,176.10 L363.12,175.60 L362.79,175.10 L362.43,174.60 L362.06,174.10 L361.67,173.60 L361.26,173.10 L360.83,172.60 L360.40,172.10 L359.96,171.60 L359.52,171.10 L359.09,170.60 L358.66,170.10 L358.24,169.60 L357.82,169.10 L357.41,168.60 L356.99,168.10 L356.58,167.60 L356.18,167.10 L355.77,166.60 L355.35,166.10 L354.94,165.60 L354.52,165.10 L354.09,164.60 L353.67,164.10 L353.23,163.60 L352.80,163.10 L352.37,162.60 L351.93,162.10 L351.50,161.60 L351.08,161.10 L350.66,160.60 L350.25,160.10 L349.84,159.60 L349.44,159.10 L349.05,158.60 L348.66,158.10 L348.28,157.60 L347.91,157.10 L347.55,156.60 L347.21,156.10 L346.88,155.60 L346.57,155.10 L346.27,154.60 L345.99,154.10 L345.72,153.60 L345.46,153.10 L345.21,152.60 L344.96,152.10 L344.72,151.60 L344.48,151.10 L344.23,150.60 L343.98,150.10 L343.73,149.60 L343.48,149.10 L343.22,148.60 L342.96,148.10 L342.70,147.60 L342.44,147.10 L342.18,146.60 L341.92,146.10 L341.66,145.60 L341.41,145.10 L341.16,144.60 L340.92,144.10 L340.67,143.60 L340.43,143.10 L340.19,142.60 L339.95,142.10 L339.72,141.60 L339.48,141.10 L339.24,140.60 L338.99,140.10 L338.75,139.60 L338.50,139.10 L338.26,138.60 L338.01,138.10 L337.76,137.60 L337.51,137.10 L337.26,136.60 L337.00,136.10 L336.75,135.60 L336.49,135.10 L336.23,134.60 L335.97,134.10 L335.70,133.60 L335.44,133.10 L335.18,132.60 L334.91,132.10 L334.65,131.60 L334.40,131.10 L334.15,130.60 L333.91,130.10 L333.68,129.60 L333.46,129.10 L333.25,128.60 L333.04,128.10 L332.84,127.60 L332.64,127.10 L332.45,126.60 L332.26,126.10 L332.07,125.60 L331.89,125.10 L331.71,124.60 L331.53,124.10 L331.36,123.60 L331.19,123.10 L331.02,122.60 L330.85,122.10 L330.69,121.60 L330.52,121.10 L330.36,120.60 L330.20,120.10 L330.02,119.60 L329.83,119.10 L329.62,118.60 L329.41,118.10 L329.21,117.60 L329.02,117.10 L328.85,116.60 L328.71,116.10 L328.61,115.60 L328.55,115.10 L328.54,114.60 L328.53,114.10 L328.52,113.60 L328.51,113.10 L328.50,112.60 L328.50,112.10 L328.49,111.60 L328.49,111.10 L328.48,110.60 L328.47,110.10 L328.47,109.60 L328.46,109.10 L328.46,108.60 L328.45,108.10 Z" fill="#3a923a" stroke="#3d3d3d" stroke-width="2.08" stroke-linejoin="round"/>
<circle cx="328.45" cy="244" r="2.8" fill="#3d3d3d"/>
<circle cx="328.45" cy="247.25" r="2.8" fill="#3d3d3d"/>
<circle cx="328.45" cy="263.8" r="2.8" fill="#3d3d3d"/>
<line x1="328.45" y1="130.9" x2="328.45" y2="141" stroke="#3d3d3d" stroke-width="5.9" stroke-linecap="round"/>
<line x1="328.45" y1="149.6" x2="328.45" y2="234.2" stroke="#3d3d3d" stroke-width="5.9" stroke-linecap="round"/>
<path d="M427.45,130.30 L427.42,130.80 L427.39,131.30 L427.35,131.80 L427.32,132.30 L427.28,132.80 L427.25,133.30 L427.21,133.80 L427.17,134.30 L427.13,134.80 L427.09,135.30 L427.06,135.80 L427.02,136.30 L426.98,136.80 L426.93,137.30 L426.89,137.80 L426.85,138.30 L426.81,138.80 L426.77,139.30 L426.72,139.80 L426.68,140.30 L426.64,140.80 L426.60,141.30 L426.56,141.80 L426.52,142.30 L426.47,142.80 L426.43,143.30 L426.38,143.80 L426.32,144.30 L426.26,144.80 L426.20,145.30 L426.13,145.80 L426.05,146.30 L425.97,146.80 L425.89,147.30 L425.80,147.80 L425.72,148.30 L425.64,148.80 L425.56,149.30 L425.48,149.80 L425.41,150.30 L425.33,150.80 L425.26,151.30 L425.19,151.80 L425.12,152.30 L425.05,152.80 L424.98,153.30 L424.92,153.80 L424.87,154.30 L424.82,154.80 L424.78,155.30 L424.74,155.80 L424.70,156.30 L424.67,156.80 L424.63,157.30 L424.60,157.80 L424.57,158.30 L424.53,158.80 L424.49,159.30 L424.45,159.80 L424.41,160.30 L424.36,160.80 L424.31,161.30 L424.26,161.80 L424.21,162.30 L424.16,162.80 L424.10,163.30 L424.05,163.80 L423.99,164.30 L423.93,164.80 L423.88,165.30 L423.82,165.80 L423.76,166.30 L423.70,166.80 L423.64,167.30 L423.58,167.80 L423.51,168.30 L423.45,168.80 L423.38,169.30 L423.32,169.80 L423.25,170.30 L423.19,170.80 L423.13,171.30 L423.06,171.80 L423.00,172.30 L422.94,172.80 L422.88,173.30 L422.82,173.80 L422.76,174.30 L422.71,174.80 L422.65,175.30 L422.59,175.80 L422.53,176.30 L422.47,176.80 L422.42,177.30 L422.36,177.80 L422.30,178.30 L422.25,178.80 L422.18,179.30 L422.12,179.80 L422.06,180.30 L421.99,180.80 L421.92,181.30 L421.85,181.80 L421.78,182.30 L421.70,182.80 L421.63,183.30 L421.55,183.80 L421.46,184.30 L421.38,184.80 L421.29,185.30 L421.20,185.80 L421.10,186.30 L421.00,186.80 L420.89,187.30 L420.78,187.80 L420.67,188.30 L420.55,188.80 L420.42,189.30 L420.28,189.80 L420.13,190.30 L419.97,190.80 L419.81,191.30 L419.63,191.80 L419.44,192.30 L419.24,192.80 L419.02,193.30 L418.79,193.80 L418.55,194.30 L418.29,194.80 L418.01,195.30 L417.72,195.80 L417.40,196.30 L417.06,196.80 L416.71,197.30 L416.34,197.80 L415.96,198.30 L415.58,198.80 L415.19,199.30 L414.81,199.80 L414.42,200.30 L414.04,200.80 L413.65,201.30 L413.26,201.80 L412.87,202.30 L412.48,202.80 L412.09,203.30 L411.69,203.80 L411.30,204.30 L410.91,204.80 L410.52,205.30 L410.13,205.80 L409.74,206.30 L409.35,206.80 L408.96,207.30 L408.57,207.80 L408.18,208.30 L407.79,208.80 L407.39,209.30 L407.00,209.80 L406.61,210.30 L406.22,210.80 L405.82,211.30 L405.43,211.80 L405.04,212.30 L404.65,212.80 L404.26,213.30 L403.87,213.80 L403.49,214.30 L403.12,214.80 L402.75,215.30 L402.38,215.80 L402.02,216.30 L401.66,216.80 L401.31,217.30 L400.96,217.80 L400.61,218.30 L400.27,218.80 L399.93,219.30 L399.59,219.80 L399.25,220.30 L398.92,220.80 L398.59,221.30 L398.26,221.80 L397.93,222.30 L397.61,222.80 L397.29,223.30 L396.99,223.80 L396.69,224.30 L396.39,224.80 L396.11,225.30 L395.83,225.80 L395.56,226.30 L395.30,226.80 L395.05,227.30 L394.80,227.80 L394.57,228.30 L394.34,228.80 L394.13,229.30 L393.93,229.80 L393.74,230.30 L393.55,230.80 L393.38,231.30 L393.22,231.80 L393.06,232.30 L392.92,232.80 L392.79,233.30 L392.68,233.80 L392.57,234.30 L392.48,234.80 L392.40,235.30 L392.33,235.80 L392.26,236.30 L392.19,236.80 L392.14,237.30 L392.08,237.80 L392.04,238.30 L392.00,238.80 L391.97,239.30 L391.95,239.80 L391.93,240.30 L391.93,240.80 L391.93,241.30 L391.94,241.80 L391.95,242.30 L391.97,242.80 L392.00,243.30 L392.03,243.80 L392.07,244.30 L392.11,244.80 L392.15,245.30 L392.19,245.80 L392.24,246.30 L392.30,246.80 L392.35,247.30 L392.42,247.80 L392.49,248.30 L392.57,248.80 L392.65,249.30 L392.75,249.80 L392.85,250.30 L392.95,250.80 L393.06,251.30 L393.17,251.80 L393.28,252.30 L393.40,252.80 L393.52,253.30 L393.64,253.80 L393.76,254.30 L393.89,254.80 L394.02,255.30 L394.16,255.80 L394.31,256.30 L394.47,256.80 L394.64,257.30 L394.83,257.80 L395.04,258.30 L395.27,258.80 L395.51,259.30 L395.77,259.80 L396.06,260.30 L396.35,260.80 L396.66,261.30 L396.98,261.80 L397.30,262.30 L397.64,262.80 L397.98,263.30 L398.33,263.80 L398.68,264.30 L399.05,264.80 L399.42,265.30 L399.79,265.80 L400.17,266.30 L400.54,266.80 L400.92,267.30 L401.29,267.80 L401.66,268.30 L402.02,268.80 L402.38,269.30 L402.73,269.80 L403.09,270.30 L403.44,270.80 L403.79,271.30 L404.13,271.80 L404.47,272.30 L404.80,272.80 L405.13,273.30 L405.45,273.80 L405.77,274.30 L406.08,274.80 L406.39,275.30 L406.70,275.80 L407.01,276.30 L407.31,276.80 L407.62,277.30 L407.94,277.80 L408.26,278.30 L408.58,278.80 L408.90,279.30 L409.22,279.80 L409.55,280.30 L409.87,280.80 L410.19,281.30 L410.50,281.80 L410.81,282.30 L411.10,282.80 L411.39,283.30 L411.68,283.80 L411.95,284.30 L412.22,284.80 L412.48,285.30 L412.74,285.80 L413.00,286.30 L413.25,286.80 L413.50,287.30 L413.74,287.80 L413.99,288.30 L414.23,288.80 L414.47,289.30 L414.71,289.80 L414.95,290.30 L415.18,290.80 L415.42,291.30 L415.66,291.80 L415.90,292.30 L416.14,292.80 L416.39,293.30 L416.63,293.80 L416.88,294.30 L417.12,294.80 L417.37,295.30 L417.61,295.80 L417.86,296.30 L418.10,296.80 L418.34,297.30 L418.58,297.80 L418.82,298.30 L419.06,298.80 L419.29,299.30 L419.53,299.80 L419.76,300.30 L419.99,300.80 L420.23,301.30 L420.46,301.80 L420.69,302.30 L420.92,302.80 L421.15,303.30 L421.38,303.80 L421.61,304.30 L421.83,304.80 L422.05,305.30 L422.27,305.80 L422.47,306.30 L422.66,306.80 L422.84,307.30 L423.01,307.80 L423.17,308.30 L423.32,308.80 L423.47,309.30 L423.61,309.80 L423.76,310.30 L423.90,310.80 L424.04,311.30 L424.19,311.80 L424.35,312.30 L424.52,312.80 L424.69,313.30 L424.86,313.80 L425.02,314.30 L425.16,314.80 L425.26,315.30 L425.35,315.80 L425.44,316.30 L425.52,316.80 L425.59,317.30 L425.66,317.80 L425.73,318.30 L425.79,318.80 L425.86,319.30 L425.92,319.80 L425.99,320.30 L426.06,320.80 L426.14,321.30 L426.21,321.80 L426.28,322.30 L426.35,322.80 L426.41,323.30 L426.47,323.80 L426.53,324.30 L426.58,324.80 L426.63,325.30 L426.67,325.80 L426.71,326.30 L426.74,326.80 L426.78,327.30 L426.81,327.80 L426.84,328.30 L426.87,328.80 L426.91,329.30 L426.94,329.80 L426.97,330.30 L427.00,330.80 L427.03,331.30 L427.06,331.80 L427.09,332.30 L427.12,332.80 L427.15,333.30 L427.18,333.80 L427.21,334.30 L427.24,334.80 L427.27,335.30 L427.30,335.80 L427.33,336.30 L427.36,336.80 L427.39,337.30 L427.42,337.80 L427.45,338.30 L427.45,338.30 L427.48,337.80 L427.51,337.30 L427.54,336.80 L427.57,336.30 L427.60,335.80 L427.63,335.30 L427.66,334.80 L427.69,334.30 L427.72,333.80 L427.75,333.30 L427.78,332.80 L427.81,332.30 L427.84,331.80 L427.87,331.30 L427.90,330.80 L427.93,330.30 L427.96,329.80 L427.99,329.30 L428.03,328.80 L428.06,328.30 L428.09,327.80 L428.12,327.30 L428.16,326.80 L428.19,326.30 L428.23,325.80 L428.27,325.30 L428.32,324.80 L428.37,324.30 L428.43,323.80 L428.49,323.30 L428.55,322.80 L428.62,322.30 L428.69,321.80 L428.76,321.30 L428.84,320.80 L428.91,320.30 L428.98,319.80 L429.04,319.30 L429.11,318.80 L429.17,318.30 L429.24,317.80 L429.31,317.30 L429.38,316.80 L429.46,316.30 L429.55,315.80 L429.64,315.30 L429.74,314.80 L429.88,314.30 L430.04,313.80 L430.21,313.30 L430.38,312.80 L430.55,312.30 L430.71,311.80 L430.86,311.30 L431.00,310.80 L431.14,310.30 L431.29,309.80 L431.43,309.30 L431.58,308.80 L431.73,308.30 L431.89,307.80 L432.06,307.30 L432.24,306.80 L432.43,306.30 L432.63,305.80 L432.85,305.30 L433.07,304.80 L433.29,304.30 L433.52,303.80 L433.75,303.30 L433.98,302.80 L434.21,302.30 L434.44,301.80 L434.67,301.30 L434.91,300.80 L435.14,300.30 L435.37,299.80 L435.61,299.30 L435.84,298.80 L436.08,298.30 L436.32,297.80 L436.56,297.30 L436.80,296.80 L437.04,296.30 L437.29,295.80 L437.53,295.30 L437.78,294.80 L438.02,294.30 L438.27,293.80 L438.51,293.30 L438.76,292.80 L439.00,292.30 L439.24,291.80 L439.48,291.30 L439.72,290.80 L439.95,290.30 L440.19,289.80 L440.43,289.30 L440.67,288.80 L440.91,288.30 L441.16,287.80 L441.40,287.30 L441.65,286.80 L441.90,286.30 L442.16,285.80 L442.42,285.30 L442.68,284.80 L442.95,284.30 L443.22,283.80 L443.51,283.30 L443.80,282.80 L444.09,282.30 L444.40,281.80 L444.71,281.30 L445.03,280.80 L445.35,280.30 L445.68,279.80 L446.00,279.30 L446.32,278.80 L446.64,278.30 L446.96,277.80 L447.28,277.30 L447.59,276.80 L447.89,276.30 L448.20,275.80 L448.51,275.30 L448.82,274.80 L449.13,274.30 L449.45,273.80 L449.77,273.30 L450.10,272.80 L450.43,272.30 L450.77,271.80 L451.11,271.30 L451.46,270.80 L451.81,270.30 L452.17,269.80 L452.52,269.30 L452.88,268.80 L453.24,268.30 L453.61,267.80 L453.98,267.30 L454.36,266.80 L454.73,266.30 L455.11,265.80 L455.48,265.30 L455.85,264.80 L456.22,264.30 L456.57,263.80 L456.92,263.30 L457.26,262.80 L457.60,262.30 L457.92,261.80 L458.24,261.30 L458.55,260.80 L458.84,260.30 L459.13,259.80 L459.39,259.30 L459.63,258.80 L459.86,258.30 L460.07,257.80 L460.26,257.30 L460.43,256.80 L460.59,256.30 L460.74,255.80 L460.88,255.30 L461.01,254.80 L461.14,254.30 L461.26,253.80 L461.38,253.30 L461.50,252.80 L461.62,252.30 L461.73,251.80 L461.84,251.30 L461.95,250.80 L462.05,250.30 L462.15,249.80 L462.25,249.30 L462.33,248.80 L462.41,248.30 L462.48,247.80 L462.55,247.30 L462.60,246.80 L462.66,246.30 L462.71,245.80 L462.75,245.30 L462.79,244.80 L462.83,244.30 L462.87,243.80 L462.90,243.30 L462.93,242.80 L462.95,242.30 L462.96,241.80 L462.97,241.30 L462.97,240.80 L462.97,240.30 L462.95,239.80 L462.93,239.30 L462.90,238.80 L462.86,238.30 L462.82,237.80 L462.76,237.30 L462.71,236.80 L462.64,236.30 L462.57,235.80 L462.50,235.30 L462.42,234.80 L462.33,234.30 L462.22,233.80 L462.11,233.30 L461.98,232.80 L461.84,232.30 L461.68,231.80 L461.52,231.30 L461.35,230.80 L461.16,230.30 L460.97,229.80 L460.77,229.30 L460.56,228.80 L460.33,228.30 L460.10,227.80 L459.85,227.30 L459.60,226.80 L459.34,226.30 L459.07,225.80 L458.79,225.30 L458.51,224.80 L458.21,224.30 L457.91,223.80 L457.61,223.30 L457.29,222.80 L456.97,222.30 L456.64,221.80 L456.31,221.30 L455.98,220.80 L455.65,220.30 L455.31,219.80 L454.97,219.30 L454.63,218.80 L454.29,218.30 L453.94,217.80 L453.59,217.30 L453.24,216.80 L452.88,216.30 L452.52,215.80 L452.15,215.30 L451.78,214.80 L451.41,214.30 L451.03,213.80 L450.64,213.30 L450.25,212.80 L449.86,212.30 L449.47,211.80 L449.08,211.30 L448.68,210.80 L448.29,210.30 L447.90,209.80 L447.51,209.30 L447.11,208.80 L446.72,208.30 L446.33,207.80 L445.94,207.30 L445.55,206.80 L445.16,206.30 L444.77,205.80 L444.38,205.30 L443.99,204.80 L443.60,204.30 L443.21,203.80 L442.81,203.30 L442.42,202.80 L442.03,202.30 L441.64,201.80 L441.25,201.30 L440.86,200.80 L440.48,200.30 L440.09,199.80 L439.71,199.30 L439.32,198.80 L438.94,198.30 L438.56,197.80 L438.19,197.30 L437.84,196.80 L437.50,196.30 L437.18,195.80 L436.89,195.30 L436.61,194.80 L436.35,194.30 L436.11,193.80 L435.88,193.30 L435.66,192.80 L435.46,192.30 L435.27,191.80 L435.09,191.30 L434.93,190.80 L434.77,190.30 L434.62,189.80 L434.48,189.30 L434.35,188.80 L434.23,188.30 L434.12,187.80 L434.01,187.30 L433.90,186.80 L433.80,186.30 L433.70,185.80 L433.61,185.30 L433.52,184.80 L433.44,184.30 L433.35,183.80 L433.27,183.30 L433.20,182.80 L433.12,182.30 L433.05,181.80 L432.98,181.30 L432.91,180.80 L432.84,180.30 L432.78,179.80 L432.72,179.30 L432.65,178.80 L432.60,178.30 L432.54,177.80 L432.48,177.30 L432.43,176.80 L432.37,176.30 L432.31,175.80 L432.25,175.30 L432.19,174.80 L432.14,174.30 L432.08,173.80 L432.02,173.30 L431.96,172.80 L431.90,172.30 L431.84,171.80 L431.77,171.30 L431.71,170.80 L431.65,170.30 L431.58,169.80 L431.52,169.30 L431.45,168.80 L431.39,168.30 L431.32,167.80 L431.26,167.30 L431.20,166.80 L431.14,166.30 L431.08,165.80 L431.02,165.30 L430.97,164.80 L430.91,164.30 L430.85,163.80 L430.80,163.30 L430.74,162.80 L430.69,162.30 L430.64,161.80 L430.59,161.30 L430.54,160.80 L430.49,160.30 L430.45,159.80 L430.41,159.30 L430.37,158.80 L430.33,158.30 L430.30,157.80 L430.27,157.30 L430.23,156.80 L430.20,156.30 L430.16,155.80 L430.12,155.30 L430.08,154.80 L430.03,154.30 L429.98,153.80 L429.92,153.30 L429.85,152.80 L429.78,152.30 L429.71,151.80 L429.64,151.30 L429.57,150.80 L429.49,150.30 L429.42,149.80 L429.34,149.30 L429.26,148.80 L429.18,148.30 L429.10,147.80 L429.01,147.30 L428.93,146.80 L428.85,146.30 L428.77,145.80 L428.70,145.30 L428.64,144.80 L428.58,144.30 L428.52,143.80 L428.47,143.30 L428.43,142.80 L428.38,142.30 L428.34,141.80 L428.30,141.30 L428.26,140.80 L428.22,140.30 L428.18,139.80 L428.13,139.30 L428.09,138.80 L428.05,138.30 L428.01,137.80 L427.97,137.30 L427.92,136.80 L427.88,136.30 L427.84,135.80 L427.81,135.30 L427.77,134.80 L427.73,134.30 L427.69,133.80 L427.65,133.30 L427.62,132.80 L427.58,132.30 L427.55,131.80 L427.51,131.30 L427.48,130.80 L427.45,130.30 Z" fill="#c03d3e" stroke="#3d3d3d" stroke-width="2.08" stroke-linejoin="round"/>
<circle cx="427.45" cy="156" r="2.8" fill="#3d3d3d"/>
<circle cx="427.45" cy="163.1" r="2.8" fill="#3d3d3d"/>
<circle cx="427.45" cy="190.5" r="2.8" fill="#3d3d3d"/>
<circle cx="427.45" cy="313.2" r="2.8" fill="#3d3d3d"/>
<line x1="427.45" y1="170.8" x2="427.45" y2="181" stroke="#3d3d3d" stroke-width="5.9" stroke-linecap="round"/>
<line x1="427.45" y1="203.6" x2="427.45" y2="296.8" stroke="#3d3d3d" stroke-width="5.9" stroke-linecap="round"/>
<path d="M526.75,190.80 L526.74,191.30 L526.74,191.80 L526.73,192.30 L526.72,192.80 L526.72,193.30 L526.71,193.80 L526.70,194.30 L526.69,194.80 L526.68,195.30 L526.67,195.80 L526.66,196.30 L526.65,196.80 L526.64,197.30 L526.63,197.80 L526.62,198.30 L526.60,198.80 L526.59,199.30 L526.57,199.80 L526.56,200.30 L526.54,200.80 L526.52,201.30 L526.49,201.80 L526.47,202.30 L526.44,202.80 L526.41,203.30 L526.37,203.80 L526.34,204.30 L526.30,204.80 L526.27,205.30 L526.23,205.80 L526.18,206.30 L526.14,206.80 L526.09,207.30 L526.03,207.80 L525.98,208.30 L525.92,208.80 L525.86,209.30 L525.79,209.80 L525.73,210.30 L525.66,210.80 L525.59,211.30 L525.51,211.80 L525.43,212.30 L525.35,212.80 L525.27,213.30 L525.18,213.80 L525.08,214.30 L524.99,214.80 L524.89,215.30 L524.79,215.80 L524.68,216.30 L524.57,216.80 L524.45,217.30 L524.32,217.80 L524.19,218.30 L524.06,218.80 L523.93,219.30 L523.80,219.80 L523.67,220.30 L523.54,220.80 L523.41,221.30 L523.27,221.80 L523.14,222.30 L523.00,222.80 L522.86,223.30 L522.71,223.80 L522.56,224.30 L522.41,224.80 L522.25,225.30 L522.08,225.80 L521.91,226.30 L521.74,226.80 L521.56,227.30 L521.37,227.80 L521.19,228.30 L521.00,228.80 L520.81,229.30 L520.62,229.80 L520.43,230.30 L520.23,230.80 L520.04,231.30 L519.84,231.80 L519.64,232.30 L519.43,232.80 L519.23,233.30 L519.03,233.80 L518.83,234.30 L518.64,234.80 L518.44,235.30 L518.25,235.80 L518.06,236.30 L517.87,236.80 L517.68,237.30 L517.49,237.80 L517.30,238.30 L517.11,238.80 L516.91,239.30 L516.72,239.80 L516.52,240.30 L516.33,240.80 L516.13,241.30 L515.93,241.80 L515.73,242.30 L515.52,242.80 L515.32,243.30 L515.13,243.80 L514.93,244.30 L514.74,244.80 L514.55,245.30 L514.36,245.80 L514.17,246.30 L513.99,246.80 L513.81,247.30 L513.63,247.80 L513.45,248.30 L513.27,248.80 L513.10,249.30 L512.92,249.80 L512.75,250.30 L512.58,250.80 L512.40,251.30 L512.23,251.80 L512.06,252.30 L511.89,252.80 L511.72,253.30 L511.56,253.80 L511.39,254.30 L511.22,254.80 L511.05,255.30 L510.88,255.80 L510.72,256.30 L510.55,256.80 L510.38,257.30 L510.21,257.80 L510.04,258.30 L509.87,258.80 L509.69,259.30 L509.51,259.80 L509.32,260.30 L509.13,260.80 L508.94,261.30 L508.74,261.80 L508.55,262.30 L508.34,262.80 L508.14,263.30 L507.94,263.80 L507.74,264.30 L507.54,264.80 L507.34,265.30 L507.14,265.80 L506.95,266.30 L506.75,266.80 L506.55,267.30 L506.35,267.80 L506.15,268.30 L505.94,268.80 L505.73,269.30 L505.50,269.80 L505.27,270.30 L505.02,270.80 L504.77,271.30 L504.51,271.80 L504.24,272.30 L503.98,272.80 L503.72,273.30 L503.46,273.80 L503.22,274.30 L502.98,274.80 L502.76,275.30 L502.55,275.80 L502.35,276.30 L502.16,276.80 L501.98,277.30 L501.80,277.80 L501.62,278.30 L501.45,278.80 L501.28,279.30 L501.12,279.80 L500.95,280.30 L500.79,280.80 L500.62,281.30 L500.46,281.80 L500.31,282.30 L500.15,282.80 L500.01,283.30 L499.87,283.80 L499.74,284.30 L499.62,284.80 L499.51,285.30 L499.40,285.80 L499.31,286.30 L499.21,286.80 L499.13,287.30 L499.05,287.80 L498.97,288.30 L498.90,288.80 L498.84,289.30 L498.79,289.80 L498.73,290.30 L498.69,290.80 L498.65,291.30 L498.61,291.80 L498.57,292.30 L498.54,292.80 L498.52,293.30 L498.49,293.80 L498.48,294.30 L498.47,294.80 L498.47,295.30 L498.47,295.80 L498.48,296.30 L498.50,296.80 L498.51,297.30 L498.54,297.80 L498.56,298.30 L498.59,298.80 L498.62,299.30 L498.65,299.80 L498.69,300.30 L498.73,300.80 L498.78,301.30 L498.83,301.80 L498.89,302.30 L498.96,302.80 L499.02,303.30 L499.09,303.80 L499.15,304.30 L499.22,304.80 L499.29,305.30 L499.35,305.80 L499.42,306.30 L499.49,306.80 L499.56,307.30 L499.63,307.80 L499.70,308.30 L499.77,308.80 L499.85,309.30 L499.93,309.80 L500.01,310.30 L500.09,310.80 L500.18,311.30 L500.26,311.80 L500.35,312.30 L500.44,312.80 L500.54,313.30 L500.63,313.80 L500.72,314.30 L500.81,314.80 L500.90,315.30 L500.99,315.80 L501.08,316.30 L501.16,316.80 L501.25,317.30 L501.34,317.80 L501.43,318.30 L501.53,318.80 L501.62,319.30 L501.72,319.80 L501.83,320.30 L501.93,320.80 L502.04,321.30 L502.16,321.80 L502.28,322.30 L502.40,322.80 L502.52,323.30 L502.65,323.80 L502.77,324.30 L502.90,324.80 L503.03,325.30 L503.17,325.80 L503.30,326.30 L503.44,326.80 L503.58,327.30 L503.72,327.80 L503.86,328.30 L504.00,328.80 L504.15,329.30 L504.29,329.80 L504.44,330.30 L504.59,330.80 L504.73,331.30 L504.88,331.80 L505.03,332.30 L505.18,332.80 L505.33,333.30 L505.48,333.80 L505.64,334.30 L505.79,334.80 L505.95,335.30 L506.10,335.80 L506.26,336.30 L506.42,336.80 L506.58,337.30 L506.74,337.80 L506.90,338.30 L507.06,338.80 L507.22,339.30 L507.39,339.80 L507.55,340.30 L507.72,340.80 L507.89,341.30 L508.05,341.80 L508.22,342.30 L508.39,342.80 L508.56,343.30 L508.74,343.80 L508.91,344.30 L509.08,344.80 L509.26,345.30 L509.43,345.80 L509.61,346.30 L509.79,346.80 L509.97,347.30 L510.15,347.80 L510.33,348.30 L510.51,348.80 L510.69,349.30 L510.88,349.80 L511.06,350.30 L511.25,350.80 L511.43,351.30 L511.62,351.80 L511.81,352.30 L512.00,352.80 L512.19,353.30 L512.39,353.80 L512.58,354.30 L512.78,354.80 L512.98,355.30 L513.18,355.80 L513.38,356.30 L513.59,356.80 L513.80,357.30 L514.01,357.80 L514.22,358.30 L514.43,358.80 L514.65,359.30 L514.87,359.80 L515.09,360.30 L515.31,360.80 L515.54,361.30 L515.77,361.80 L516.00,362.30 L516.23,362.80 L516.46,363.30 L516.69,363.80 L516.93,364.30 L517.16,364.80 L517.39,365.30 L517.63,365.80 L517.86,366.30 L518.09,366.80 L518.33,367.30 L518.56,367.80 L518.79,368.30 L519.01,368.80 L519.23,369.30 L519.45,369.80 L519.66,370.30 L519.87,370.80 L520.07,371.30 L520.27,371.80 L520.46,372.30 L520.65,372.80 L520.84,373.30 L521.02,373.80 L521.20,374.30 L521.37,374.80 L521.54,375.30 L521.71,375.80 L521.87,376.30 L522.03,376.80 L522.18,377.30 L522.33,377.80 L522.47,378.30 L522.62,378.80 L522.76,379.30 L522.89,379.80 L523.03,380.30 L523.16,380.80 L523.28,381.30 L523.41,381.80 L523.53,382.30 L523.65,382.80 L523.76,383.30 L523.88,383.80 L523.99,384.30 L524.10,384.80 L524.22,385.30 L524.33,385.80 L524.44,386.30 L524.55,386.80 L524.66,387.30 L524.76,387.80 L524.86,388.30 L524.96,388.80 L525.06,389.30 L525.15,389.80 L525.25,390.30 L525.34,390.80 L525.42,391.30 L525.50,391.80 L525.57,392.30 L525.64,392.80 L525.70,393.30 L525.76,393.80 L525.81,394.30 L525.86,394.80 L525.91,395.30 L525.96,395.80 L526.00,396.30 L526.05,396.80 L526.08,397.30 L526.12,397.80 L526.16,398.30 L526.19,398.80 L526.22,399.30 L526.25,399.80 L526.28,400.30 L526.30,400.80 L526.33,401.30 L526.36,401.80 L526.39,402.30 L526.42,402.80 L526.45,403.30 L526.49,403.80 L526.52,404.30 L526.56,404.80 L526.59,405.30 L526.63,405.80 L526.65,406.30 L526.68,406.80 L526.69,407.30 L526.71,407.80 L526.72,408.30 L526.73,408.80 L526.74,409.30 L526.74,409.80 L526.75,410.30 L526.75,410.80 L526.75,410.80 L526.75,410.30 L526.76,409.80 L526.76,409.30 L526.77,408.80 L526.78,408.30 L526.79,407.80 L526.81,407.30 L526.82,406.80 L526.85,406.30 L526.87,405.80 L526.91,405.30 L526.94,404.80 L526.98,404.30 L527.01,403.80 L527.05,403.30 L527.08,402.80 L527.11,402.30 L527.14,401.80 L527.17,401.30 L527.20,400.80 L527.22,400.30 L527.25,399.80 L527.28,399.30 L527.31,398.80 L527.34,398.30 L527.38,397.80 L527.42,397.30 L527.45,396.80 L527.50,396.30 L527.54,395.80 L527.59,395.30 L527.64,394.80 L527.69,394.30 L527.74,393.80 L527.80,393.30 L527.86,392.80 L527.93,392.30 L528.00,391.80 L528.08,391.30 L528.16,390.80 L528.25,390.30 L528.35,389.80 L528.44,389.30 L528.54,388.80 L528.64,388.30 L528.74,387.80 L528.84,387.30 L528.95,386.80 L529.06,386.30 L529.17,385.80 L529.28,385.30 L529.40,384.80 L529.51,384.30 L529.62,383.80 L529.74,383.30 L529.85,382.80 L529.97,382.30 L530.09,381.80 L530.22,381.30 L530.34,380.80 L530.47,380.30 L530.61,379.80 L530.74,379.30 L530.88,378.80 L531.03,378.30 L531.17,377.80 L531.32,377.30 L531.47,376.80 L531.63,376.30 L531.79,375.80 L531.96,375.30 L532.13,374.80 L532.30,374.30 L532.48,373.80 L532.66,373.30 L532.85,372.80 L533.04,372.30 L533.23,371.80 L533.43,371.30 L533.63,370.80 L533.84,370.30 L534.05,369.80 L534.27,369.30 L534.49,368.80 L534.71,368.30 L534.94,367.80 L535.17,367.30 L535.41,366.80 L535.64,366.30 L535.87,365.80 L536.11,365.30 L536.34,364.80 L536.57,364.30 L536.81,363.80 L537.04,363.30 L537.27,362.80 L537.50,362.30 L537.73,361.80 L537.96,361.30 L538.19,360.80 L538.41,360.30 L538.63,359.80 L538.85,359.30 L539.07,358.80 L539.28,358.30 L539.49,357.80 L539.70,357.30 L539.91,356.80 L540.12,356.30 L540.32,355.80 L540.52,355.30 L540.72,354.80 L540.92,354.30 L541.11,353.80 L541.31,353.30 L541.50,352.80 L541.69,352.30 L541.88,351.80 L542.07,351.30 L542.25,350.80 L542.44,350.30 L542.62,349.80 L542.81,349.30 L542.99,348.80 L543.17,348.30 L543.35,347.80 L543.53,347.30 L543.71,346.80 L543.89,346.30 L544.07,345.80 L544.24,345.30 L544.42,344.80 L544.59,344.30 L544.76,343.80 L544.94,343.30 L545.11,342.80 L545.28,342.30 L545.45,341.80 L545.61,341.30 L545.78,340.80 L545.95,340.30 L546.11,339.80 L546.28,339.30 L546.44,338.80 L546.60,338.30 L546.76,337.80 L546.92,337.30 L547.08,336.80 L547.24,336.30 L547.40,335.80 L547.55,335.30 L547.71,334.80 L547.86,334.30 L548.02,333.80 L548.17,333.30 L548.32,332.80 L548.47,332.30 L548.62,331.80 L548.77,331.30 L548.91,330.80 L549.06,330.30 L549.21,329.80 L549.35,329.30 L549.50,328.80 L549.64,328.30 L549.78,327.80 L549.92,327.30 L550.06,326.80 L550.20,326.30 L550.33,325.80 L550.47,325.30 L550.60,324.80 L550.73,324.30 L550.85,323.80 L550.98,323.30 L551.10,322.80 L551.22,322.30 L551.34,321.80 L551.46,321.30 L551.57,320.80 L551.67,320.30 L551.78,319.80 L551.88,319.30 L551.97,318.80 L552.07,318.30 L552.16,317.80 L552.25,317.30 L552.34,316.80 L552.42,316.30 L552.51,315.80 L552.60,315.30 L552.69,314.80 L552.78,314.30 L552.87,313.80 L552.96,313.30 L553.06,312.80 L553.15,312.30 L553.24,311.80 L553.32,311.30 L553.41,310.80 L553.49,310.30 L553.57,309.80 L553.65,309.30 L553.73,308.80 L553.80,308.30 L553.87,307.80 L553.94,307.30 L554.01,306.80 L554.08,306.30 L554.15,305.80 L554.21,305.30 L554.28,304.80 L554.35,304.30 L554.41,303.80 L554.48,303.30 L554.54,302.80 L554.61,302.30 L554.67,301.80 L554.72,301.30 L554.77,300.80 L554.81,300.30 L554.85,299.80 L554.88,299.30 L554.91,298.80 L554.94,298.30 L554.96,297.80 L554.99,297.30 L555.00,296.80 L555.02,296.30 L555.03,295.80 L555.03,295.30 L555.03,294.80 L555.02,294.30 L555.01,293.80 L554.98,293.30 L554.96,292.80 L554.93,292.30 L554.89,291.80 L554.85,291.30 L554.81,290.80 L554.77,290.30 L554.71,289.80 L554.66,289.30 L554.60,288.80 L554.53,288.30 L554.45,287.80 L554.37,287.30 L554.29,286.80 L554.19,286.30 L554.10,285.80 L553.99,285.30 L553.88,284.80 L553.76,284.30 L553.63,283.80 L553.49,283.30 L553.35,282.80 L553.19,282.30 L553.04,281.80 L552.88,281.30 L552.71,280.80 L552.55,280.30 L552.38,279.80 L552.22,279.30 L552.05,278.80 L551.88,278.30 L551.70,277.80 L551.52,277.30 L551.34,276.80 L551.15,276.30 L550.95,275.80 L550.74,275.30 L550.52,274.80 L550.28,274.30 L550.04,273.80 L549.78,273.30 L549.52,272.80 L549.26,272.30 L548.99,271.80 L548.73,271.30 L548.48,270.80 L548.23,270.30 L548.00,269.80 L547.77,269.30 L547.56,268.80 L547.35,268.30 L547.15,267.80 L546.95,267.30 L546.75,266.80 L546.55,266.30 L546.36,265.80 L546.16,265.30 L545.96,264.80 L545.76,264.30 L545.56,263.80 L545.36,263.30 L545.16,262.80 L544.95,262.30 L544.76,261.80 L544.56,261.30 L544.37,260.80 L544.18,260.30 L543.99,259.80 L543.81,259.30 L543.63,258.80 L543.46,258.30 L543.29,257.80 L543.12,257.30 L542.95,256.80 L542.78,256.30 L542.62,255.80 L542.45,255.30 L542.28,254.80 L542.11,254.30 L541.94,253.80 L541.78,253.30 L541.61,252.80 L541.44,252.30 L541.27,251.80 L541.10,251.30 L540.92,250.80 L540.75,250.30 L540.58,249.80 L540.40,249.30 L540.23,248.80 L540.05,248.30 L539.87,247.80 L539.69,247.30 L539.51,246.80 L539.33,246.30 L539.14,245.80 L538.95,245.30 L538.76,244.80 L538.57,244.30 L538.37,243.80 L538.18,243.30 L537.98,242.80 L537.77,242.30 L537.57,241.80 L537.37,241.30 L537.17,240.80 L536.98,240.30 L536.78,239.80 L536.59,239.30 L536.39,238.80 L536.20,238.30 L536.01,237.80 L535.82,237.30 L535.63,236.80 L535.44,236.30 L535.25,235.80 L535.06,235.30 L534.86,234.80 L534.67,234.30 L534.47,233.80 L534.27,233.30 L534.07,232.80 L533.86,232.30 L533.66,231.80 L533.46,231.30 L533.27,230.80 L533.07,230.30 L532.88,229.80 L532.69,229.30 L532.50,228.80 L532.31,228.30 L532.13,227.80 L531.94,227.30 L531.76,226.80 L531.59,226.30 L531.42,225.80 L531.25,225.30 L531.09,224.80 L530.94,224.30 L530.79,223.80 L530.64,223.30 L530.50,222.80 L530.36,222.30 L530.23,221.80 L530.09,221.30 L529.96,220.80 L529.83,220.30 L529.70,219.80 L529.57,219.30 L529.44,218.80 L529.31,218.30 L529.18,217.80 L529.05,217.30 L528.93,216.80 L528.82,216.30 L528.71,215.80 L528.61,215.30 L528.51,214.80 L528.42,214.30 L528.32,213.80 L528.23,213.30 L528.15,212.80 L528.07,212.30 L527.99,211.80 L527.91,211.30 L527.84,210.80 L527.77,210.30 L527.71,209.80 L527.64,209.30 L527.58,208.80 L527.52,208.30 L527.47,207.80 L527.41,207.30 L527.36,206.80 L527.32,206.30 L527.27,205.80 L527.23,205.30 L527.20,204.80 L527.16,204.30 L527.13,203.80 L527.09,203.30 L527.06,202.80 L527.03,202.30 L527.01,201.80 L526.98,201.30 L526.96,200.80 L526.94,200.30 L526.93,199.80 L526.91,199.30 L526.90,198.80 L526.88,198.30 L526.87,197.80 L526.86,197.30 L526.85,196.80 L526.84,196.30 L526.83,195.80 L526.82,195.30 L526.81,194.80 L526.80,194.30 L526.79,193.80 L526.78,193.30 L526.78,192.80 L526.77,192.30 L526.76,191.80 L526.76,191.30 L526.75,190.80 Z" fill="#9372b2" stroke="#3d3d3d" stroke-width="2.08" stroke-linejoin="round"/>
<circle cx="526.75" cy="220.1" r="2.8" fill="#3d3d3d"/>
<circle cx="526.75" cy="369.5" r="2.8" fill="#3d3d3d"/>
<circle cx="526.75" cy="382.3" r="2.8" fill="#3d3d3d"/>
<line x1="526.75" y1="238" x2="526.75" y2="362.8" stroke="#3d3d3d" stroke-width="5.9" stroke-linecap="round"/>
<g style="filter:grayscale(1)">
<rect x="80.5" y="58.5" width="496" height="369" fill="none" stroke="#000" stroke-width="1.05"/>
<line x1="75.5" y1="102.5" x2="80.5" y2="102.5" stroke="#000" stroke-width="1.05"/>
<text x="69.9" y="108" text-anchor="end" font-size="14.2" textLength="20.9" lengthAdjust="spacingAndGlyphs">0.9</text>
<line x1="75.5" y1="152.5" x2="80.5" y2="152.5" stroke="#000" stroke-width="1.05"/>
<text x="69.9" y="157" text-anchor="end" font-size="14.2" textLength="20.9" lengthAdjust="spacingAndGlyphs">0.8</text>
<line x1="75.5" y1="201.5" x2="80.5" y2="201.5" stroke="#000" stroke-width="1.05"/>
<text x="69.9" y="207" text-anchor="end" font-size="14.2" textLength="20.9" lengthAdjust="spacingAndGlyphs">0.7</text>
<line x1="75.5" y1="251.5" x2="80.5" y2="251.5" stroke="#000" stroke-width="1.05"/>
<text x="69.9" y="256" text-anchor="end" font-size="14.2" textLength="20.9" lengthAdjust="spacingAndGlyphs">0.6</text>
<line x1="75.5" y1="300.5" x2="80.5" y2="300.5" stroke="#000" stroke-width="1.05"/>
<text x="69.9" y="306" text-anchor="end" font-size="14.2" textLength="20.9" lengthAdjust="spacingAndGlyphs">0.5</text>
<line x1="75.5" y1="350.5" x2="80.5" y2="350.5" stroke="#000" stroke-width="1.05"/>
<text x="69.9" y="355" text-anchor="end" font-size="14.2" textLength="20.9" lengthAdjust="spacingAndGlyphs">0.4</text>
<line x1="75.5" y1="399.5" x2="80.5" y2="399.5" stroke="#000" stroke-width="1.05"/>
<text x="69.9" y="405" text-anchor="end" font-size="14.2" textLength="20.9" lengthAdjust="spacingAndGlyphs">0.3</text>
<line x1="130.5" y1="427.5" x2="130.5" y2="432.6" stroke="#000" stroke-width="1.05"/>
<text x="129.65" y="448" text-anchor="middle" font-size="14.2" textLength="53.9" lengthAdjust="spacingAndGlyphs">softplus</text>
<line x1="229.5" y1="427.5" x2="229.5" y2="432.6" stroke="#000" stroke-width="1.05"/>
<text x="228.1" y="448" text-anchor="middle" font-size="14.2" textLength="62.7" lengthAdjust="spacingAndGlyphs">relu+eps</text>
<line x1="328.5" y1="427.5" x2="328.5" y2="432.6" stroke="#000" stroke-width="1.05"/>
<text x="327.9" y="448" text-anchor="middle" font-size="14.2" textLength="70.96" lengthAdjust="spacingAndGlyphs">sigmoidx5</text>
<line x1="427.5" y1="427.5" x2="427.5" y2="432.6" stroke="#000" stroke-width="1.05"/>
<text x="427.4" y="448" text-anchor="middle" font-size="14.2" textLength="53.2" lengthAdjust="spacingAndGlyphs">sigmoid</text>
<line x1="526.5" y1="427.5" x2="526.5" y2="432.6" stroke="#000" stroke-width="1.05"/>
<text x="526.5" y="448" text-anchor="middle" font-size="14.2" textLength="30.4" lengthAdjust="spacingAndGlyphs">iVAE</text>
<text x="328.1" y="466" text-anchor="middle" font-size="14.2" textLength="75.2" lengthAdjust="spacingAndGlyphs">Activations</text>
<text transform="translate(40,244.4) rotate(-90)" text-anchor="middle" font-size="14.2" textLength="30.6" lengthAdjust="spacingAndGlyphs">MCC</text>
</g>
</svg>
</body></html>
